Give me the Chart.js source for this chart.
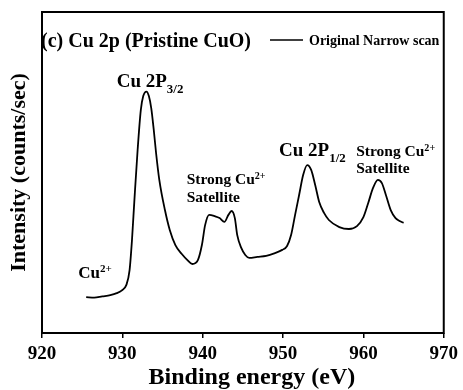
<!DOCTYPE html>
<html>
<head>
<meta charset="utf-8">
<script src="https://cdn.jsdelivr.net/npm/chart.js@4"></script>
<style>
  html, body { margin: 0; padding: 0; background: #fff; }
  #wrap { width: 463px; height: 390px; }
</style>
</head>
<body>
<div id="wrap"><canvas id="xps"></canvas></div>
<script>
// Cu 2p narrow scan, pristine CuO
const energy = [
  925.5, 926.5, 927.5, 928.5, 929.3, 929.9, 930.5, 930.9, 931.2, 931.5,
  931.9, 932.3, 932.6, 933.0, 933.3, 933.6, 933.9, 934.2, 934.6, 935.3,
  935.9, 936.6, 937.4, 938.1, 938.7, 939.4, 939.9, 940.3, 940.8, 941.5,
  942.1, 942.7, 943.2, 943.6, 944.0, 944.3, 944.8, 945.3, 945.8, 946.8,
  947.9, 949.0, 949.9, 950.5, 951.0, 951.5, 952.0, 952.5, 953.0, 953.5,
  954.0, 954.5, 955.1, 955.7, 957.0, 958.2, 959.2, 960.0, 960.6, 961.2,
  961.8, 962.3, 962.8, 963.4, 964.0, 964.5, 965.0
];
const intensity = [
  11.2, 11.0, 11.4, 11.8, 12.4, 13.2, 15.0, 19.6, 29.0, 41.4,
  57.0, 69.5, 73.8, 75.2, 73.8, 70.0, 63.5, 56.0, 47.7, 38.3,
  32.1, 27.4, 24.6, 22.7, 21.5, 22.7, 27.4, 33.6, 36.8, 36.4,
  35.8, 34.6, 36.8, 38.0, 35.8, 30.5, 26.5, 24.3, 23.4, 23.7,
  24.0, 24.9, 25.9, 27.1, 30.5, 36.8, 43.0, 49.2, 52.3, 50.8,
  46.1, 40.8, 37.4, 35.2, 33.0, 32.4, 33.3, 36.1, 40.5, 45.2,
  47.7, 46.7, 43.0, 38.3, 35.8, 34.9, 34.3
];
const xTicks = [920, 930, 940, 950, 960, 970];

// peak labels: [eV, intensity] of the text's left baseline
const peakLabels = [
  { at: [929.3, 76.6], size: 19, parts: [['Cu 2P'], ['3/2', 'sub']] },
  { at: [938.0, 46.4], size: 15.5, parts: [['Strong Cu'], ['2+', 'sup']] },
  { at: [938.0, 40.8], size: 15.5, parts: [['Satellite']] },
  { at: [949.5, 55.1], size: 19, parts: [['Cu 2P'], ['1/2', 'sub']] },
  { at: [959.1, 55.1], size: 15.5, parts: [['Strong Cu'], ['2+', 'sup']] },
  { at: [959.1, 49.7], size: 15.5, parts: [['Satellite']] },
  { at: [924.5, 17.1], size: 17, parts: [['Cu'], ['2+', 'sup']] }
];

const SERIF = "'Times New Roman', 'Liberation Serif', serif";

function drawRich(ctx, x, y, parts, size) {
  ctx.textAlign = 'left';
  ctx.textBaseline = 'alphabetic';
  parts.forEach(([text, kind]) => {
    let fs = size, dy = 0;
    if (kind === 'sub') { fs = size * 0.68; dy = size * 0.3; }
    if (kind === 'sup') { fs = size * 0.65; dy = -size * 0.33; }
    ctx.font = `bold ${fs}px ${SERIF}`;
    ctx.fillText(text, x, y + dy);
    x += ctx.measureText(text).width;
  });
}

const frameAndText = {
  id: 'frameAndText',
  afterDatasetsDraw(chart) {
    const { ctx, chartArea: a, scales } = chart;
    ctx.save();
    ctx.strokeStyle = '#000';
    ctx.lineWidth = 2;
    ctx.strokeRect(a.left, a.top, a.right - a.left, a.bottom - a.top);

    ctx.fillStyle = '#000';
    // panel title
    drawRich(ctx, a.left - 1, a.top + 35, [['(c) Cu 2p (Pristine CuO)']], 20);

    // legend entry
    const ly = a.top + 28;
    ctx.beginPath();
    ctx.lineWidth = 1.5;
    ctx.moveTo(a.left + 228, ly);
    ctx.lineTo(a.left + 261, ly);
    ctx.stroke();
    drawRich(ctx, a.left + 267, ly + 5, [[chart.data.datasets[0].label]], 14);

    peakLabels.forEach(l => {
      const px = scales.x.getPixelForValue(l.at[0]);
      const py = scales.y.getPixelForValue(l.at[1]);
      drawRich(ctx, px, py, l.parts, l.size);
    });

    // x axis title, sits a little right of centre
    ctx.font = `bold 24px ${SERIF}`;
    ctx.textAlign = 'center';
    ctx.textBaseline = 'alphabetic';
    ctx.fillText('Binding energy (eV)', (a.left + a.right) / 2 + 9, a.bottom + 51);
    ctx.restore();
  }
};

new Chart(document.getElementById('xps'), {
  type: 'line',
  data: {
    datasets: [{
      label: 'Original Narrow scan',
      data: energy.map((e, i) => ({ x: e, y: intensity[i] })),
      borderColor: '#000',
      borderWidth: 1.8,
      pointRadius: 0,
      cubicInterpolationMode: 'monotone',
      fill: false
    }]
  },
  options: {
    responsive: true,
    maintainAspectRatio: false,
    animation: false,
    layout: { padding: { top: 12, right: 18, left: 0, bottom: 0 } },
    plugins: { legend: { display: false }, tooltip: { enabled: false } },
    scales: {
      x: {
        type: 'linear',
        min: 920,
        max: 970,
        afterBuildTicks: s => { s.ticks = xTicks.map(v => ({ value: v })); },
        afterFit: s => { s.height = 57; },
        grid: { drawOnChartArea: false, tickLength: 5, color: '#000', lineWidth: 1.5 },
        border: { display: false },
        ticks: { color: '#000', padding: 5, font: { family: SERIF, size: 19, weight: 'bold' } },
        title: { display: false }
      },
      y: {
        min: 0,
        max: 100,
        afterFit: s => { s.width = 42; },
        grid: { display: false },
        border: { display: false },
        ticks: { display: false },
        title: {
          display: true,
          text: 'Intensity (counts/sec)',
          color: '#000',
          padding: { top: 6, bottom: 0 },
          font: { family: SERIF, size: 22, weight: 'bold' }
        }
      }
    }
  },
  plugins: [frameAndText]
});
</script>
</body>
</html>
